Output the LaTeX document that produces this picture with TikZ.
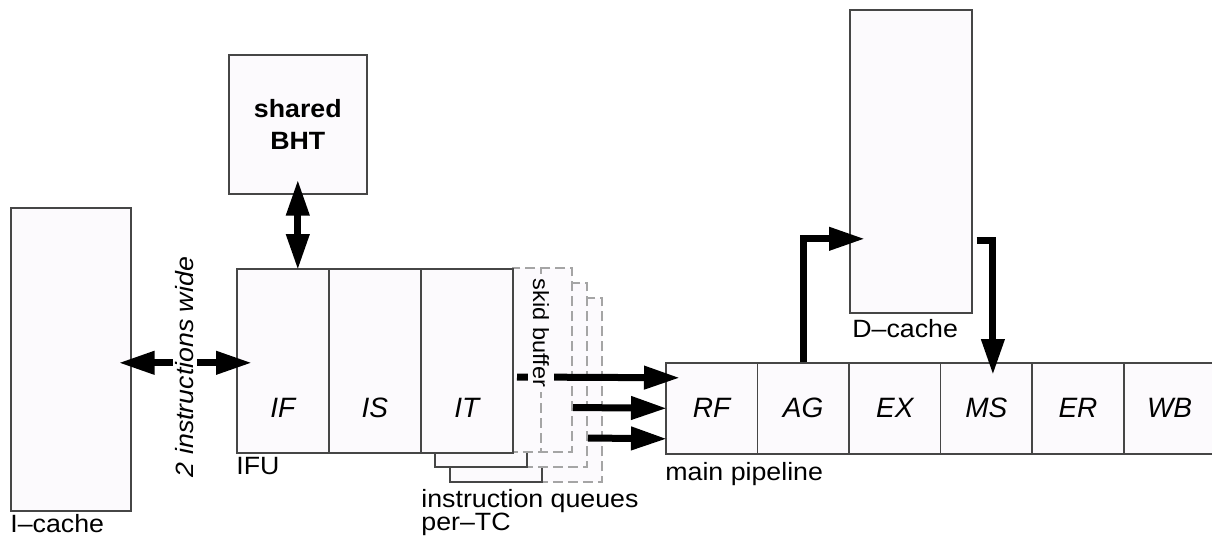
\documentclass[tikz,border=0pt]{standalone}
\usepackage{fontspec}
\setmainfont{Liberation Sans}
\newfontfamily\lblfont{Liberation Sans}[FakeStretch=1.07]
\usetikzlibrary{arrows.meta,calc}
\definecolor{boxfill}{RGB}{252,250,253}
\definecolor{boxline}{RGB}{70,70,70}
\definecolor{dashline}{RGB}{165,165,165}
\begin{document}
\begin{tikzpicture}[x=0.5pt,y=-0.5pt,
 box/.style={draw=boxline, line width=0.8pt, fill=boxfill, inner sep=0pt, anchor=north west},
 cell/.style={box, minimum width=46pt, minimum height=92pt},
 pcell/.style={box, minimum width=45.8pt, minimum height=45.5pt},
 stage/.style={font=\fontsize{14}{16}\selectfont\itshape, inner sep=0pt},
 lbl/.style={font=\lblfont\fontsize{12.5}{14}\selectfont, inner sep=0pt, anchor=base west},
 bigarrow/.style={line width=3.5pt, -{Triangle[length=18pt,width=11pt]}},
 dblarrow/.style={line width=3.5pt, {Triangle[length=18pt,width=11pt]}-{Triangle[length=18pt,width=11pt]}},
 skid/.style={draw=dashline, line width=0.6pt, dash pattern=on 5pt off 2.5pt, fill=boxfill},
 qsolid/.style={draw=boxline, line width=0.8pt, fill=boxfill}
]
\useasboundingbox (0,0) rectangle (1212,541);
\fill[white] (0,0) rectangle (1212,541);

% caches and BHT
\node[box, minimum width=60pt, minimum height=151.5pt] (icache) at (10,207) {};
\node[lbl] (icachelbl) at (10,532) {I–cache};
\node[box, minimum width=69pt, minimum height=69.5pt, align=center,
      font=\lblfont\bfseries\fontsize{12.5}{16}\selectfont] (bht) at (228,54) {shared\\BHT};
\node[box, minimum width=61pt, minimum height=151.5pt] (dcache) at (849,9) {};
\node[lbl] (dcachelbl) at (852,337) {D–cache};

% instruction queues (back layers)
\foreach \k in {2,1}{
  \draw[skid] ({512+15*\k},{268+15*\k}) rectangle ({572+15*\k},{452+15*\k});
  \draw[qsolid] ({420+15*\k},{268+15*\k}) rectangle ({512+15*\k},{452+15*\k});
}
\draw[skid] (512,268) rectangle (572,452);
\draw[draw=dashline, line width=0.6pt, dash pattern=on 5pt off 2.5pt] (541,268) -- (541,452);

% IFU
\node[cell] (IF) at (236,268) {};
\node[cell] (IS) at (328,268) {};
\node[cell] (IT) at (420,268) {};
\node[stage] (lIF) at ([yshift=-23.5pt]IF.center) {IF};
\node[stage] (lIS) at ([yshift=-23.5pt]IS.center) {IS};
\node[stage] (lIT) at ([yshift=-23.5pt]IT.center) {IT};
\node[lbl] (ifulbl) at (236,474) {IFU};
\node[lbl] (iq1) at (421,507) {instruction queues};
\node[lbl] (iq2) at (421,530) {per–TC};

% main pipeline
\node[pcell] (RF) at (665,362) {};
\node[pcell] (AG) at (756.6,362) {};
\node[pcell] (EX) at (848.2,362) {};
\node[pcell] (MS) at (939.8,362) {};
\node[pcell] (ER) at (1031.4,362) {};
\node[pcell] (WB) at (1123,362) {};
\foreach \n in {RF,AG,EX,MS,ER,WB}{
  \node[stage] (l\n) at (\n.center) {\n};
}
\node[lbl] (mplbl) at (665,480) {main pipeline};

% connectors
\draw[dblarrow] ([xshift=-6.5pt,yshift=-1.75pt]icache.east) -- ([xshift=8pt,yshift=-1.75pt]icache.east -| IF.west);
\node[font=\lblfont\itshape\fontsize{12.5}{14}\selectfont, rotate=90, fill=white, inner sep=1.5pt] (wide) at (185,367) {2 instructions wide};
\draw[dblarrow] ([yshift=7.5pt]bht.south) -- ([yshift=-1pt]bht.south |- IF.north);

\coordinate (q1) at (517,377);
\coordinate (q2) at (573,407.5);
\coordinate (q3) at (588,438);
\draw[bigarrow] (q1) -- ([xshift=7.5pt,yshift=15.25pt]RF.west);
\draw[bigarrow] (q2) -- ([xshift=1pt]RF.west);
\draw[bigarrow] (q3) -- ([xshift=1pt,yshift=-15.25pt]RF.west);
\node[font=\lblfont\fontsize{11}{13}\selectfont, rotate=-90, fill=boxfill, inner sep=2.5pt] (skidlbl) at (541,333) {skid buffer};

\draw[bigarrow] (AG.north) |- ([xshift=8pt,yshift=-38.75pt]dcache.west);
\draw[bigarrow] ([xshift=2pt,yshift=-39.75pt]dcache.east) -| ([xshift=3.25pt,yshift=-6.5pt]MS.north);
\end{tikzpicture}
\end{document}
